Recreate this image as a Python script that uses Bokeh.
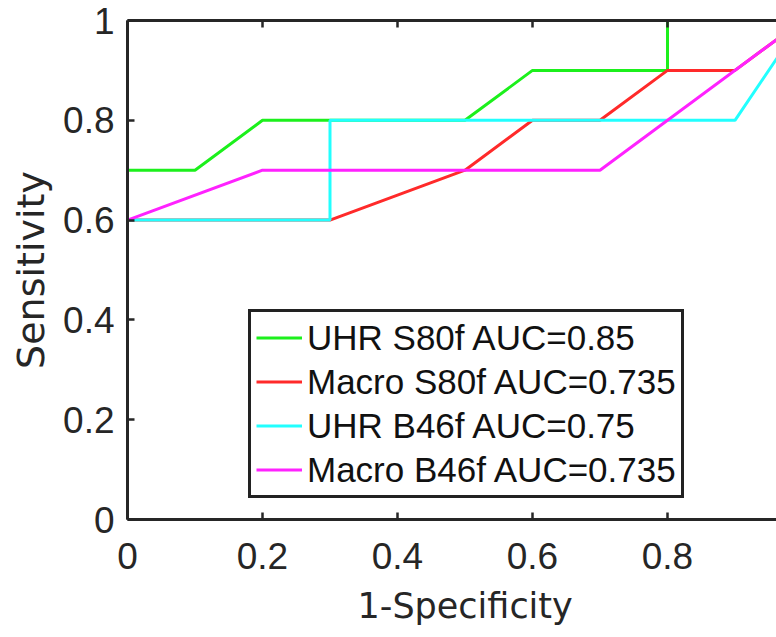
from bokeh.plotting import figure
from bokeh.models import Range1d, LinearAxis, FixedTicker, Legend, LegendItem, Title
from bokeh.embed import file_html
from bokeh.resources import INLINE

# ---- data ----
x_ticks = [0, 0.2, 0.4, 0.6, 0.8, 1]
x_tick_labels = ["0", "0.2", "0.4", "0.6", "0.8", "1"]
y_ticks = [0, 0.2, 0.4, 0.6, 0.8, 1]
y_tick_labels = ["0", "0.2", "0.4", "0.6", "0.8", "1"]

fpr_uhr_s80 = [0, 0, 0.1, 0.2, 0.5, 0.6, 0.8, 0.8, 1]
tpr_uhr_s80 = [0, 0.7, 0.7, 0.8, 0.8, 0.9, 0.9, 1, 1]

fpr_macro_s80 = [0, 0, 0.3, 0.5, 0.6, 0.7, 0.8, 0.9, 1]
tpr_macro_s80 = [0, 0.6, 0.6, 0.7, 0.8, 0.8, 0.9, 0.9, 1]

fpr_uhr_b46 = [0, 0, 0.3, 0.3, 0.9, 1]
tpr_uhr_b46 = [0, 0.6, 0.6, 0.8, 0.8, 1]

fpr_macro_b46 = [0, 0, 0.2, 0.7, 1]
tpr_macro_b46 = [0, 0.6, 0.7, 0.7, 1]

series_labels = ["UHR S80f AUC=0.85", "Macro S80f AUC=0.735",
                 "UHR B46f AUC=0.75", "Macro B46f AUC=0.735"]
series_colors = ["#1cf01c", "#ff2a2a", "#22ffff", "#ff22ff"]

x_label = "1-Specificity"
y_label = "Sensitivity"

FONT = "Liberation Sans"
LFONT = "DejaVu Sans"
TXT = "#262626"

p = figure(frame_width=649, frame_height=499,
           output_backend="svg", toolbar_location=None,
           x_range=Range1d(0, 0.9615), y_range=Range1d(0, 1),
           x_axis_location=None, y_axis_location=None,
           min_border_left=127, min_border_right=0,
           min_border_top=20, min_border_bottom=117)
p.grid.visible = False
p.outline_line_color = None
p.background_fill_color = "white"
p.border_fill_color = "white"


def style_axis(ax, ticks, labels):
    ax.ticker = FixedTicker(ticks=ticks)
    ax.major_label_overrides = {t: l for t, l in zip(ticks, labels)}
    ax.major_tick_in = 7
    ax.major_tick_out = 0
    ax.minor_tick_in = 0
    ax.minor_tick_out = 0
    ax.axis_line_width = 3
    ax.axis_line_color = TXT
    ax.major_tick_line_width = 2.5
    ax.major_tick_line_color = TXT
    ax.major_label_text_font = FONT
    ax.major_label_text_color = TXT
    ax.major_label_text_font_size = "37px"
    ax.axis_label_text_font = LFONT
    ax.axis_label_text_color = TXT
    ax.axis_label_text_font_style = "normal"


xb = LinearAxis()
style_axis(xb, x_ticks, x_tick_labels)
xb.major_label_standoff = 23
p.add_layout(xb, "below")

# x-axis title, centred on the full 0..1 axis span (frame is cropped at right)
xt_title = Title(text=x_label, align="left", offset=230,
                 text_font=LFONT, text_font_size="35px",
                 text_font_style="normal", text_color=TXT, standoff=25)
p.add_layout(xt_title, "below")

yl = LinearAxis(axis_label=y_label)
style_axis(yl, y_ticks, y_tick_labels)
yl.major_label_standoff = 13
yl.axis_label_standoff = 7
yl.axis_label_text_font_size = "38px"
p.add_layout(yl, "left")

xt = LinearAxis()
style_axis(xt, x_ticks, x_tick_labels)
xt.major_label_text_color = None
xt.major_label_text_font_size = "1px"
xt.major_label_standoff = 0
p.add_layout(xt, "above")

xs = [fpr_uhr_s80, fpr_macro_s80, fpr_uhr_b46, fpr_macro_b46]
ys = [tpr_uhr_s80, tpr_macro_s80, tpr_uhr_b46, tpr_macro_b46]
items = []
for x, y, c, lab in zip(xs, ys, series_colors, series_labels):
    r = p.line(x, y, line_color=c, line_width=3)
    items.append(LegendItem(label=lab, renderers=[r]))

legend = Legend(items=items, location=(121, 21))
legend.label_text_font = FONT
legend.label_text_font_size = "35px"
legend.label_text_color = "#111111"
legend.glyph_width = 46
legend.glyph_height = 41
legend.label_height = 41
legend.spacing = 3
legend.padding = 5
legend.margin = 0
legend.label_standoff = 5
legend.border_line_color = "#222222"
legend.border_line_alpha = 1
legend.border_line_width = 3
legend.background_fill_color = "white"
legend.background_fill_alpha = 1
p.add_layout(legend, "center")

open("out.html", "w").write(file_html(p, INLINE))
